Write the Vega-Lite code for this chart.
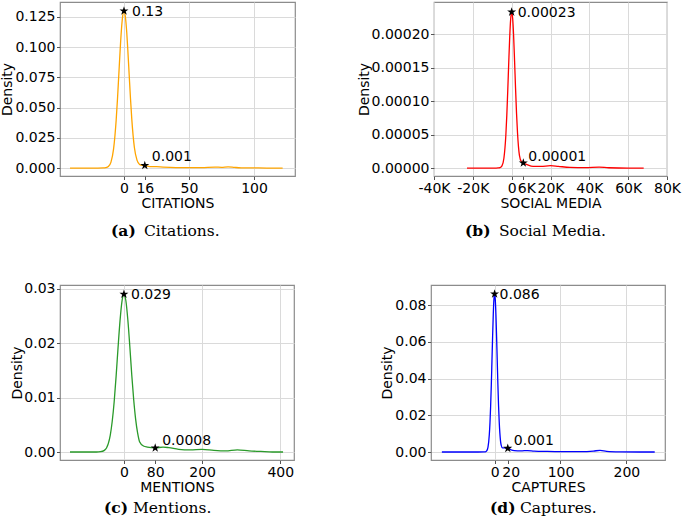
{
  "$schema": "https://vega.github.io/schema/vega-lite/v6.json",
  "padding": {"left": 0, "top": 1, "right": 0, "bottom": 0},
  "background": "white",
  "config": {
    "view": {"stroke": "#8c8c8c", "strokeWidth": 1.2},
    "axis": {
      "domain": false,
      "gridColor": "#dadada",
      "gridWidth": 1,
      "tickColor": "#555555",
      "tickSize": 3.5,
      "labelFont": "DejaVu Sans",
      "labelFontSize": 14,
      "labelColor": "#000000",
      "labelPadding": 1.5,
      "labelOverlap": false,
      "labelFlush": false,
      "labelBound": false,
      "titleFont": "DejaVu Sans",
      "titleFontSize": 14,
      "titleFontWeight": "normal",
      "titleColor": "#000000"
    },
    "axisX": {"titlePadding": 1},
    "axisY": {"titlePadding": 1},
    "title": {"font": "DejaVu Serif", "fontSize": 15.5, "fontWeight": "normal", "color": "#000000"},
    "concat": {"spacing": 0}
  },
  "datasets": {
    "ca": [
      {"x": -41.5, "y": 0}, {"x": -30, "y": 0}, {"x": -20, "y": 0}, {"x": -16, "y": 0.00005}, {"x": -14, "y": 0.0003},
      {"x": -12, "y": 0.0012}, {"x": -10, "y": 0.0049}, {"x": -8, "y": 0.0159}, {"x": -6, "y": 0.0398}, {"x": -5, "y": 0.0571},
      {"x": -4, "y": 0.0768}, {"x": -3, "y": 0.0967}, {"x": -2, "y": 0.114}, {"x": -1, "y": 0.1258}, {"x": 0, "y": 0.13},
      {"x": 1, "y": 0.1258}, {"x": 2, "y": 0.114}, {"x": 3, "y": 0.0967}, {"x": 4, "y": 0.077}, {"x": 5, "y": 0.0575},
      {"x": 6, "y": 0.0405}, {"x": 8, "y": 0.017}, {"x": 10, "y": 0.0065}, {"x": 12, "y": 0.003}, {"x": 14, "y": 0.0022},
      {"x": 16, "y": 0.0021}, {"x": 18, "y": 0.0015}, {"x": 20, "y": 0.0012}, {"x": 25, "y": 0.0011}, {"x": 30, "y": 0.0008},
      {"x": 40, "y": 0.0004}, {"x": 50, "y": 0.0003}, {"x": 60, "y": 0.0004}, {"x": 70, "y": 0.0008}, {"x": 75, "y": 0.0006},
      {"x": 80, "y": 0.0009}, {"x": 85, "y": 0.0005}, {"x": 90, "y": 0.0002}, {"x": 100, "y": 0.0001}, {"x": 110, "y": 0}, {"x": 122, "y": 0}
    ],
    "sa": [
      {"x": 0, "y": 0.13, "label": "0.13", "kind": "peak"},
      {"x": 16, "y": 0.0021, "label": "0.001", "kind": "tail"}
    ],
    "cb": [
      {"x": -23000, "y": 0}, {"x": -15000, "y": 0}, {"x": -8000, "y": 0}, {"x": -7000, "y": 0.0000002}, {"x": -6000, "y": 0.0000006},
      {"x": -5000, "y": 0.0000032}, {"x": -4000, "y": 0.0000146}, {"x": -3000, "y": 0.000049}, {"x": -2500, "y": 0.000079},
      {"x": -2000, "y": 0.0001167}, {"x": -1500, "y": 0.000158}, {"x": -1000, "y": 0.000196}, {"x": -500, "y": 0.000223},
      {"x": 0, "y": 0.000233}, {"x": 500, "y": 0.000224}, {"x": 1000, "y": 0.000198}, {"x": 1500, "y": 0.00016},
      {"x": 2000, "y": 0.000119}, {"x": 2500, "y": 0.000082}, {"x": 3000, "y": 0.000053}, {"x": 3500, "y": 0.000032},
      {"x": 4000, "y": 0.000019}, {"x": 5000, "y": 0.0000095}, {"x": 6000, "y": 0.0000075}, {"x": 8000, "y": 0.000005},
      {"x": 11000, "y": 0.0000025}, {"x": 15000, "y": 0.0000025}, {"x": 20000, "y": 0.0000035}, {"x": 24000, "y": 0.0000025},
      {"x": 30000, "y": 0.000001}, {"x": 38000, "y": 0.0000005}, {"x": 45000, "y": 0.0000014}, {"x": 50000, "y": 0.0000004},
      {"x": 60000, "y": 0}, {"x": 68000, "y": 0}
    ],
    "sb": [
      {"x": 0, "y": 0.000233, "label": "0.00023", "kind": "peak"},
      {"x": 6000, "y": 0.0000075, "label": "0.00001", "kind": "tail"}
    ],
    "cc": [
      {"x": -138, "y": 0}, {"x": -100, "y": 0}, {"x": -70, "y": 0}, {"x": -60, "y": 0.00005}, {"x": -50, "y": 0.0003},
      {"x": -40, "y": 0.00154}, {"x": -35, "y": 0.00306}, {"x": -30, "y": 0.0056}, {"x": -25, "y": 0.0092}, {"x": -20, "y": 0.0139},
      {"x": -15, "y": 0.0192}, {"x": -10, "y": 0.0241}, {"x": -5, "y": 0.0277}, {"x": 0, "y": 0.029}, {"x": 5, "y": 0.0278},
      {"x": 10, "y": 0.0243}, {"x": 15, "y": 0.0195}, {"x": 20, "y": 0.0142}, {"x": 25, "y": 0.0096}, {"x": 30, "y": 0.006},
      {"x": 35, "y": 0.0035}, {"x": 40, "y": 0.0019}, {"x": 50, "y": 0.0011}, {"x": 60, "y": 0.0009}, {"x": 80, "y": 0.00075},
      {"x": 100, "y": 0.0009}, {"x": 115, "y": 0.0008}, {"x": 140, "y": 0.0005}, {"x": 170, "y": 0.0004}, {"x": 200, "y": 0.0005},
      {"x": 230, "y": 0.0003}, {"x": 260, "y": 0.0002}, {"x": 290, "y": 0.0004}, {"x": 320, "y": 0.0002}, {"x": 350, "y": 0.0001},
      {"x": 380, "y": 0}, {"x": 407, "y": 0}
    ],
    "sc": [
      {"x": 0, "y": 0.029, "label": "0.029", "kind": "peak"},
      {"x": 80, "y": 0.00075, "label": "0.0008", "kind": "tail"}
    ],
    "cd": [
      {"x": -80, "y": 0}, {"x": -50, "y": 0}, {"x": -25, "y": 0}, {"x": -16, "y": 0.00002}, {"x": -14, "y": 0.0001},
      {"x": -12, "y": 0.0006}, {"x": -10, "y": 0.0027}, {"x": -8, "y": 0.0095}, {"x": -7, "y": 0.0159}, {"x": -6, "y": 0.0249},
      {"x": -5, "y": 0.0363}, {"x": -4, "y": 0.0495}, {"x": -3, "y": 0.063}, {"x": -2, "y": 0.0749}, {"x": -1, "y": 0.0831},
      {"x": 0, "y": 0.086}, {"x": 1, "y": 0.0832}, {"x": 2, "y": 0.0751}, {"x": 3, "y": 0.0633}, {"x": 4, "y": 0.05},
      {"x": 5, "y": 0.0368}, {"x": 6, "y": 0.0255}, {"x": 7, "y": 0.0166}, {"x": 8, "y": 0.0103}, {"x": 10, "y": 0.0037},
      {"x": 12, "y": 0.0022}, {"x": 15, "y": 0.0022}, {"x": 20, "y": 0.002}, {"x": 25, "y": 0.0012}, {"x": 30, "y": 0.0008},
      {"x": 40, "y": 0.0006}, {"x": 50, "y": 0.0008}, {"x": 60, "y": 0.0005}, {"x": 80, "y": 0.0003}, {"x": 100, "y": 0.0002},
      {"x": 130, "y": 0.0002}, {"x": 150, "y": 0.0005}, {"x": 160, "y": 0.0009}, {"x": 170, "y": 0.0004}, {"x": 190, "y": 0.0001},
      {"x": 220, "y": 0}, {"x": 243, "y": 0}
    ],
    "sd": [
      {"x": 0, "y": 0.086, "label": "0.086", "kind": "peak"},
      {"x": 20, "y": 0.002, "label": "0.001", "kind": "tail"}
    ]
  },
  "spacing": 40,
  "vconcat": [
    {
      "spacing": 60,
      "hconcat": [
        {
          "title": {"text": "Citations.", "orient": "bottom", "anchor": "start", "frame": "group", "dx": 84, "offset": -16},
          "hconcat": [
            {
              "width": 235, "height": 174,
              "title": {"text": "(a)", "orient": "bottom", "anchor": "start", "frame": "group", "dx": 51, "offset": 14, "fontWeight": "bold"},
              "encoding": {
                "x": {"field": "x", "type": "quantitative", "scale": {"domain": [-49.2, 131.5], "nice": false, "zero": false},
                      "axis": {"values": [0, 16, 50, 100], "title": "CITATIONS", "gridOpacity": {"condition": {"test": "datum.value == 16", "value": 0}, "value": 1}}},
                "y": {"field": "y", "type": "quantitative", "scale": {"domain": [-0.0066, 0.1374], "nice": false, "zero": false},
                      "axis": {"values": [0, 0.025, 0.05, 0.075, 0.1, 0.125], "format": ".3f", "title": "Density", "titlePadding": 0}}
              },
              "layer": [
                {"data": {"name": "ca"}, "mark": {"type": "line", "color": "#ffa500", "strokeWidth": 1.3, "interpolate": "monotone"}},
                {"data": {"name": "sa"}, "mark": {"type": "point", "shape": "M0,-1L0.2245,-0.309L0.9511,-0.309L0.3633,0.118L0.5878,0.809L0,0.382L-0.5878,0.809L-0.3633,0.118L-0.9511,-0.309L-0.2245,-0.309Z", "filled": true, "color": "#000000", "opacity": 1, "size": 90}},
                {"data": {"name": "sa"}, "transform": [{"filter": "datum.kind == 'peak'"}], "mark": {"type": "text", "align": "left", "baseline": "middle", "dx": 8, "dy": 1, "font": "DejaVu Sans", "fontSize": 14}, "encoding": {"text": {"field": "label"}}},
                {"data": {"name": "sa"}, "transform": [{"filter": "datum.kind == 'tail'"}], "mark": {"type": "text", "align": "left", "baseline": "middle", "dx": 7, "dy": -8, "font": "DejaVu Sans", "fontSize": 14}, "encoding": {"text": {"field": "label"}}}
              ]
            }
          ]
        },
        {
          "title": {"text": "Social Media.", "orient": "bottom", "anchor": "start", "frame": "group", "dx": 65, "offset": -16},
          "hconcat": [
            {
              "width": 233, "height": 174,
              "title": {"text": "(b)", "orient": "bottom", "anchor": "start", "frame": "group", "dx": 31, "offset": 14, "fontWeight": "bold"},
              "encoding": {
                "x": {"field": "x", "type": "quantitative", "scale": {"domain": [-40000, 80000], "nice": false, "zero": false},
                      "axis": {"values": [-40000, -20000, 0, 6000, 20000, 40000, 60000, 80000], "labelExpr": "datum.value == 0 ? '0' : (datum.value / 1000) + 'K'", "title": "SOCIAL MEDIA",
                               "labelOffset": {"condition": {"test": "datum.value == 6000", "value": 3}, "value": 0},
                               "gridOpacity": {"condition": {"test": "datum.value == 6000", "value": 0}, "value": 1}}},
                "y": {"field": "y", "type": "quantitative", "scale": {"domain": [-0.0000119, 0.000248], "nice": false, "zero": false},
                      "axis": {"values": [0, 0.00005, 0.0001, 0.00015, 0.0002], "format": ".5f", "title": "Density", "titlePadding": 0}}
              },
              "layer": [
                {"data": {"name": "cb"}, "mark": {"type": "line", "color": "#ff0000", "strokeWidth": 1.3, "interpolate": "monotone"}},
                {"data": {"name": "sb"}, "mark": {"type": "point", "shape": "M0,-1L0.2245,-0.309L0.9511,-0.309L0.3633,0.118L0.5878,0.809L0,0.382L-0.5878,0.809L-0.3633,0.118L-0.9511,-0.309L-0.2245,-0.309Z", "filled": true, "color": "#000000", "opacity": 1, "size": 90}},
                {"data": {"name": "sb"}, "transform": [{"filter": "datum.kind == 'peak'"}], "mark": {"type": "text", "align": "left", "baseline": "middle", "dx": 6, "dy": 1, "font": "DejaVu Sans", "fontSize": 14}, "encoding": {"text": {"field": "label"}}},
                {"data": {"name": "sb"}, "transform": [{"filter": "datum.kind == 'tail'"}], "mark": {"type": "text", "align": "left", "baseline": "middle", "dx": 5, "dy": -6, "font": "DejaVu Sans", "fontSize": 14}, "encoding": {"text": {"field": "label"}}}
              ]
            }
          ]
        }
      ]
    },
    {
      "spacing": 85,
      "hconcat": [
        {
          "title": {"text": "Mentions.", "orient": "bottom", "anchor": "start", "frame": "group", "dx": 73, "offset": -16},
          "hconcat": [
            {
              "width": 234, "height": 175,
              "title": {"text": "(c)", "orient": "bottom", "anchor": "start", "frame": "group", "dx": 44, "offset": 7, "fontWeight": "bold"},
              "encoding": {
                "x": {"field": "x", "type": "quantitative", "scale": {"domain": [-163.5, 435], "nice": false, "zero": false},
                      "axis": {"values": [0, 80, 200, 400], "title": "MENTIONS", "gridOpacity": {"condition": {"test": "datum.value == 80", "value": 0}, "value": 1}}},
                "y": {"field": "y", "type": "quantitative", "scale": {"domain": [-0.00147, 0.0307], "nice": false, "zero": false},
                      "axis": {"values": [0, 0.01, 0.02, 0.03], "format": ".2f", "title": "Density", "titlePadding": -1}}
              },
              "layer": [
                {"data": {"name": "cc"}, "mark": {"type": "line", "color": "#2a9a2a", "strokeWidth": 1.3, "interpolate": "monotone"}},
                {"data": {"name": "sc"}, "mark": {"type": "point", "shape": "M0,-1L0.2245,-0.309L0.9511,-0.309L0.3633,0.118L0.5878,0.809L0,0.382L-0.5878,0.809L-0.3633,0.118L-0.9511,-0.309L-0.2245,-0.309Z", "filled": true, "color": "#000000", "opacity": 1, "size": 90}},
                {"data": {"name": "sc"}, "transform": [{"filter": "datum.kind == 'peak'"}], "mark": {"type": "text", "align": "left", "baseline": "middle", "dx": 7, "dy": 1, "font": "DejaVu Sans", "fontSize": 14}, "encoding": {"text": {"field": "label"}}},
                {"data": {"name": "sc"}, "transform": [{"filter": "datum.kind == 'tail'"}], "mark": {"type": "text", "align": "left", "baseline": "middle", "dx": 7, "dy": -7, "font": "DejaVu Sans", "fontSize": 14}, "encoding": {"text": {"field": "label"}}}
              ]
            }
          ]
        },
        {
          "title": {"text": "Captures.", "orient": "bottom", "anchor": "start", "frame": "group", "dx": 89, "offset": -16},
          "hconcat": [
            {
              "width": 234, "height": 175,
              "title": {"text": "(d)", "orient": "bottom", "anchor": "start", "frame": "group", "dx": 59, "offset": 7, "fontWeight": "bold"},
              "encoding": {
                "x": {"field": "x", "type": "quantitative", "scale": {"domain": [-96.5, 258.6], "nice": false, "zero": false},
                      "axis": {"values": [0, 20, 100, 200], "title": "CAPTURES",
                               "labelOffset": {"condition": {"test": "datum.value == 20", "value": 3}, "value": 0},
                               "gridOpacity": {"condition": {"test": "datum.value == 20", "value": 0}, "value": 1}}},
                "y": {"field": "y", "type": "quantitative", "scale": {"domain": [-0.00435, 0.0909], "nice": false, "zero": false},
                      "axis": {"values": [0, 0.02, 0.04, 0.06, 0.08], "format": ".2f", "title": "Density", "titlePadding": 0}}
              },
              "layer": [
                {"data": {"name": "cd"}, "mark": {"type": "line", "color": "#0000ff", "strokeWidth": 1.3, "interpolate": "monotone"}},
                {"data": {"name": "sd"}, "mark": {"type": "point", "shape": "M0,-1L0.2245,-0.309L0.9511,-0.309L0.3633,0.118L0.5878,0.809L0,0.382L-0.5878,0.809L-0.3633,0.118L-0.9511,-0.309L-0.2245,-0.309Z", "filled": true, "color": "#000000", "opacity": 1, "size": 90}},
                {"data": {"name": "sd"}, "transform": [{"filter": "datum.kind == 'peak'"}], "mark": {"type": "text", "align": "left", "baseline": "middle", "dx": 5, "dy": 1, "font": "DejaVu Sans", "fontSize": 14}, "encoding": {"text": {"field": "label"}}},
                {"data": {"name": "sd"}, "transform": [{"filter": "datum.kind == 'tail'"}], "mark": {"type": "text", "align": "left", "baseline": "middle", "dx": 6, "dy": -7, "font": "DejaVu Sans", "fontSize": 14}, "encoding": {"text": {"field": "label"}}}
              ]
            }
          ]
        }
      ]
    }
  ]
}
